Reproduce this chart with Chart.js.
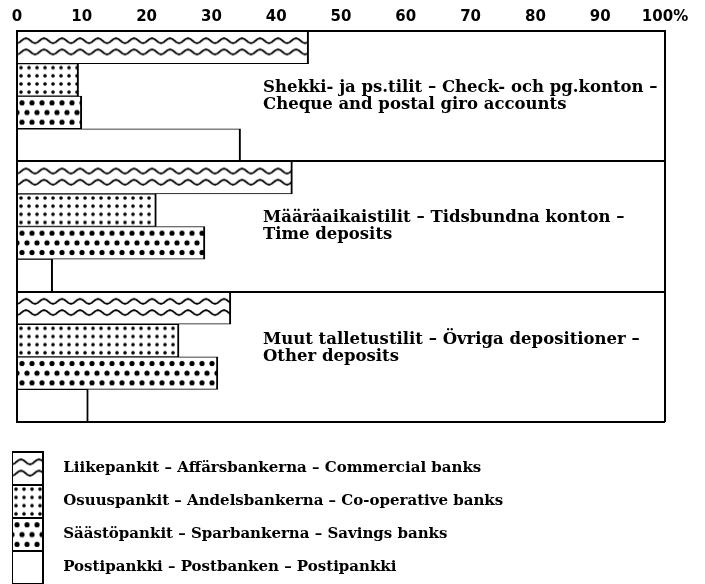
<!DOCTYPE html>
<html>
<head>
<meta charset="utf-8">
<script src="https://cdn.jsdelivr.net/npm/chart.js@4/dist/chart.umd.min.js"></script>
<style>
  body { margin: 0; background: #fff; }
  canvas { display: block; }
</style>
</head>
<body>
<canvas id="chart" width="705" height="584"></canvas>
<script>
// account types, one group of bars each (empty last line nudges the 3rd label up)
const accountLabels = [
    ["Shekki- ja ps.tilit – Check- och pg.konton –", "Cheque and postal giro accounts"],
    ["Määräaikaistilit – Tidsbundna konton –", "Time deposits"],
    ["Muut talletustilit – Övriga depositioner –", "Other deposits", ""]
]

const bankNames = [
    "Liikepankit – Affärsbankerna – Commercial banks",
    "Osuuspankit – Andelsbankerna – Co-operative banks",
    "Säästöpankit – Sparbankerna – Savings banks",
    "Postipankki – Postbanken – Postipankki"
]

// share of deposits by bank group, %
const commercial = [45, 42.5, 33]
const cooperative = [9.5, 21.5, 25]
const savings = [10, 29, 31]
const postbank = [34.5, 5.5, 11]

const xTickLabels = ["0", "10", "20", "30", "40", "50", "60", "70", "80", "90", "100%"]

const ctx = document.getElementById('chart').getContext('2d')

// hatch tiles, one bar high
const TILE_H = 32
const LEGEND_ROW = 33

function makeTile(w, paint) {
    const c = document.createElement('canvas')
    c.width = w
    c.height = TILE_H
    const g = c.getContext('2d')
    g.fillStyle = '#fff'
    g.fillRect(0, 0, w, TILE_H)
    g.fillStyle = '#000'
    g.strokeStyle = '#000'
    paint(g)
    return c
}

function dot(g, x, y, r) {
    g.beginPath()
    g.arc(x, y, r, 0, Math.PI * 2)
    g.fill()
}

const waveTile = makeTile(18, g => {
    g.lineWidth = 1.8
    for (const y0 of [9.5, 20.5]) {
        g.beginPath()
        for (let x = -1; x <= 19; x += 0.5) {
            const y = y0 + 2.3 * Math.cos(x / 18 * Math.PI * 2)
            x === -1 ? g.moveTo(x, y) : g.lineTo(x, y)
        }
        g.stroke()
    }
})

const coopTile = makeTile(8, g => {
    for (const y of [4, 12, 20, 28]) dot(g, 4, y, 1.8)
})

const savingsTile = makeTile(10, g => {
    dot(g, 5, 6.5, 2.6)
    dot(g, 0, 16, 2.6)
    dot(g, 10, 16, 2.6)
    dot(g, 5, 25.5, 2.6)
})

const tiles = [waveTile, coopTile, savingsTile, null]
const barFills = tiles.map(t => t ? ctx.createPattern(t, 'repeat') : '#fff')
const legendFills = tiles.map(t => t ? ctx.createPattern(t, 'repeat') : '#fff')

// line the patterns up with the bars and legend boxes once layout is known
const alignPatterns = {
    id: 'alignPatterns',
    beforeDraw(chart) {
        const a = chart.chartArea
        const barH = (a.bottom - a.top) / (accountLabels.length * bankNames.length)
        barFills.forEach(p => {
            if (p.setTransform) p.setTransform(new DOMMatrix([1, 0, 0, barH / TILE_H, a.left, a.top]))
        })
        const lg = chart.legend
        const top = lg.top + lg._computeTitleHeight()
        legendFills.forEach((p, i) => {
            if (p.setTransform) p.setTransform(new DOMMatrix([1, 0, 0, LEGEND_ROW / TILE_H, lg.left, top + i * LEGEND_ROW]))
        })
    }
}

const series = [commercial, cooperative, savings, postbank]

new Chart(ctx, {
    type: 'bar',
    data: {
        labels: accountLabels,
        datasets: series.map((d, i) => ({
            label: bankNames[i],
            data: d,
            backgroundColor: barFills[i],
            borderColor: '#000',
            borderWidth: { top: 1, right: 2, bottom: 1, left: 0 },
            categoryPercentage: 1,
            barPercentage: 1
        }))
    },
    options: {
        indexAxis: 'y',
        responsive: false,
        animation: false,
        events: [],
        layout: { padding: { left: 12, right: 40, top: 0, bottom: -10 } },
        scales: {
            x: {
                position: 'top',
                min: 0,
                max: 100,
                ticks: {
                    stepSize: 10,
                    padding: 5,
                    color: '#000',
                    font: { family: "'DejaVu Sans', sans-serif", size: 15, weight: 'bold' },
                    callback: (v, i) => xTickLabels[i]
                },
                grid: {
                    z: 1,
                    drawTicks: false,
                    lineWidth: 2,
                    color: c => (c.tick && (c.tick.value === 0 || c.tick.value === 100)) ? '#000' : 'rgba(0,0,0,0)'
                },
                border: { z: 1, color: '#000', width: 2 },
                afterFit: s => {
                    s.height = 31
                    s.paddingLeft = 0
                    s.paddingRight = 0
                }
            },
            y: {
                position: 'left',
                ticks: {
                    mirror: true,
                    padding: 246,
                    color: '#000',
                    font: { family: "'DejaVu Serif', serif", size: 16.5, weight: 'bold', lineHeight: 1.03 }
                },
                grid: { z: 1, offset: true, drawTicks: false, lineWidth: 2, color: '#000' },
                border: { z: 1, color: '#000', width: 2 },
                afterFit: s => {
                    s.width = 5
                    s.paddingTop = 0
                    s.paddingBottom = 0
                }
            }
        },
        plugins: {
            tooltip: { enabled: false },
            legend: {
                position: 'bottom',
                align: 'start',
                title: { display: true, text: ' ', font: { size: 10, lineHeight: 1 }, padding: { top: 20, bottom: 0 } },
                labels: {
                    boxWidth: 31,
                    boxHeight: LEGEND_ROW,
                    padding: 0,
                    color: '#000',
                    font: { family: "'DejaVu Serif', serif", size: 15, weight: 'bold' },
                    generateLabels: () => bankNames.map((name, i) => ({
                        text: '\u2002 ' + name,
                        fillStyle: legendFills[i],
                        strokeStyle: '#000',
                        lineWidth: 2,
                        fontColor: '#000',
                        datasetIndex: i,
                        hidden: false
                    }))
                }
            }
        }
    },
    plugins: [alignPatterns]
})
</script>
</body>
</html>
